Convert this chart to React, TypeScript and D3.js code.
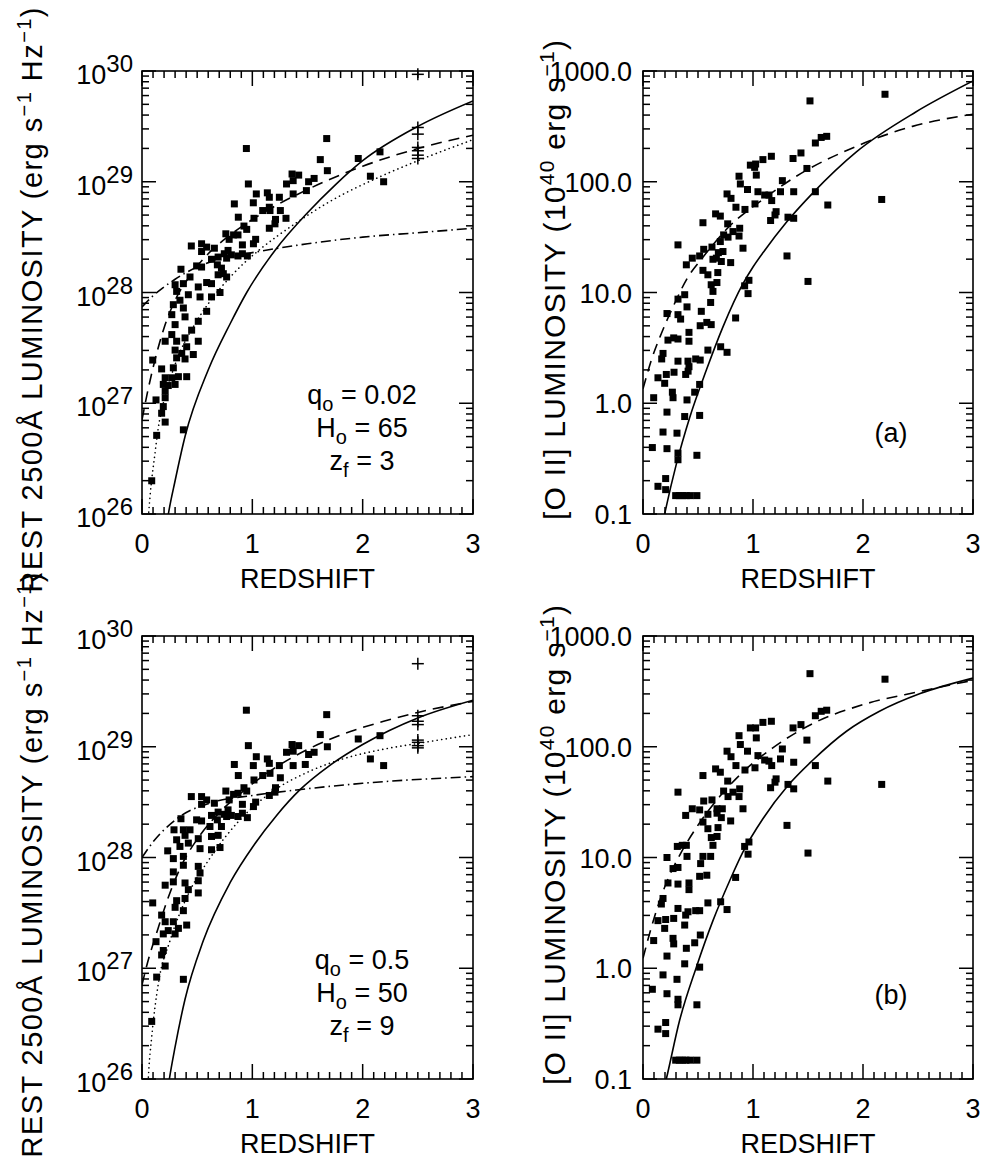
import React from 'react';
import * as d3 from 'd3';

type P = [number, number];

// ---------- tick labels ----------
const redshiftTicks = [0, 1, 2, 3];
const lumDecades = [26, 27, 28, 29, 30];
const oiiTicks = [0.1, 1, 10, 100, 1000];
const oiiTickLabels = ['0.1', '1.0', '10.0', '100.0', '1000.0'];

// ---------- top-left: [redshift, log10 L2500] ----------
const tlSquares: P[] = [
  [0.946,29.30],[1.674,29.39],[1.616,29.20],[1.68,29.10],[1.96,29.21],[2.157,29.27],[2.07,29.05],[2.19,29.0],
  [0.964,28.98],[1.36,29.07],[1.42,29.06],[1.37,29.01],[1.31,28.98],[1.56,29.03],[1.51,29.0],[1.49,28.92],
  [1.37,28.89],[1.036,28.89],[1.136,28.90],[1.154,28.86],[1.245,28.86],[0.837,28.80],[1.009,28.81],[1.154,28.77],
  [1.094,28.74],[1.16,28.74],[1.254,28.74],[0.873,28.68],[1.015,28.67],[1.21,28.66],[1.305,28.67],[1.205,28.62],
  [1.154,28.58],[0.924,28.60],[0.949,28.57],[0.76,28.53],[0.83,28.52],[0.87,28.52],[0.79,28.48],[1.03,28.48],
  [1.01,28.44],[0.91,28.43],[0.447,28.42],[0.54,28.44],[0.586,28.41],[0.656,28.40],[0.54,28.37],[0.78,28.38],
  [0.746,28.35],[0.81,28.34],[0.87,28.33],[0.91,28.35],[0.955,28.33],[0.63,28.30],[0.69,28.32],[0.767,28.31],
  [0.353,28.21],[0.495,28.24],[0.54,28.23],[0.683,28.25],[0.72,28.22],
  [0.30,28.07],[0.375,28.08],[0.435,28.14],[0.51,28.05],[0.586,28.09],[0.63,28.08],[0.69,28.16],[0.737,28.17],
  [0.767,28.14],[0.314,28.01],[0.42,27.98],[0.526,27.96],[0.63,27.96],[0.707,28.0],[0.344,27.93],[0.284,27.89],
  [0.375,27.86],[0.27,27.80],[0.39,27.78],[0.586,27.83],[0.51,27.74],[0.30,27.71],[0.45,27.66],[0.27,27.62],
  [0.39,27.59],[0.21,27.56],[0.314,27.56],[0.51,27.56],[0.405,27.51],[0.30,27.48],[0.36,27.45],[0.465,27.44],
  [0.314,27.41],[0.39,27.40],[0.097,27.39],[0.178,27.31],[0.284,27.32],[0.405,27.24],[0.21,27.23],[0.27,27.23],
  [0.33,27.24],[0.193,27.17],[0.238,27.16],[0.30,27.17],[0.21,27.11],[0.21,27.05],[0.127,27.03],[0.193,26.97],
  [0.178,26.91],[0.21,26.83],[0.133,26.71],[0.375,26.76],[0.088,26.30],
];
const tlCrosses: P[] = [[2.5,29.97],[2.5,29.49],[2.5,29.43],[2.5,29.31],[2.5,29.28],[2.5,29.24],[2.5,29.21]];
const tlSolid: P[] = [[0.22,25.88],[0.239,26.0],[0.3,26.3],[0.39,26.70],[0.6,27.30],[0.8,27.72],[0.949,28.0],[1.205,28.38],[1.5,28.72],[1.75,28.97],[2.0,29.19],[2.5,29.5],[3.0,29.73]];
const tlDashed: P[] = [[0,26.85],[0.05,27.1],[0.1,27.32],[0.2,27.68],[0.3,27.93],[0.42,28.13],[0.6,28.35],[0.8,28.52],[1.1,28.72],[1.5,28.93],[2.0,29.14],[2.5,29.30],[3.0,29.42]];
const tlDotted: P[] = [[0.05,25.85],[0.06,26.0],[0.073,26.16],[0.118,26.55],[0.148,26.78],[0.193,27.0],[0.3,27.35],[0.495,27.74],[0.616,27.92],[0.8,28.14],[0.93,28.27],[1.07,28.39],[1.4,28.63],[1.7,28.82],[2.19,29.06],[2.5,29.19],[3.0,29.38]];
const tlDashDot: P[] = [[0,27.87],[0.1,27.97],[0.2,28.05],[0.3,28.12],[0.5,28.23],[0.7,28.30],[1.0,28.36],[1.5,28.44],[2.0,28.50],[2.5,28.54],[3.0,28.58]];

// ---------- bottom-left ----------
const blSquares: P[] = [
  [0.946,29.33],[1.674,29.29],[1.616,29.11],[1.68,29.0],[1.96,29.07],[2.157,29.10],[2.07,28.89],[2.19,28.83],
  [0.964,29.01],[1.36,29.02],[1.42,29.01],[1.37,28.96],[1.31,28.95],[1.56,28.95],[1.51,28.93],[1.48,28.84],
  [1.37,28.83],[1.036,28.91],[1.136,28.89],[1.154,28.85],[1.245,28.83],[0.837,28.84],[1.009,28.83],[1.16,28.76],
  [1.094,28.74],[1.254,28.72],[0.873,28.74],[1.015,28.70],[1.21,28.63],[1.205,28.59],[1.154,28.56],[0.924,28.63],
  [0.949,28.60],[0.76,28.60],[0.83,28.57],[0.87,28.58],[0.79,28.52],[1.03,28.50],[1.01,28.46],[0.91,28.48],
  [0.447,28.55],[0.54,28.55],[0.586,28.52],[0.656,28.49],[0.54,28.48],[0.78,28.43],[0.746,28.39],[0.81,28.38],
  [0.87,28.37],[0.91,28.40],[0.955,28.36],[0.63,28.38],[0.69,28.41],[0.767,28.37],[0.353,28.35],[0.495,28.34],
  [0.54,28.33],[0.683,28.34],[0.616,28.28],[0.72,28.28],[0.29,28.25],[0.375,28.25],[0.435,28.25],[0.314,28.16],
  [0.39,28.20],[0.51,28.17],[0.63,28.19],[0.69,28.20],[0.233,28.06],[0.344,28.10],[0.42,28.13],[0.526,28.08],
  [0.63,28.07],[0.707,28.09],[0.375,28.01],[0.284,27.99],
  [0.375,27.93],[0.51,27.92],[0.284,27.87],[0.526,27.86],[0.21,27.75],[0.284,27.78],[0.39,27.77],[0.51,27.79],
  [0.42,27.71],[0.51,27.68],[0.314,27.61],[0.39,27.63],[0.097,27.59],[0.30,27.55],[0.375,27.52],[0.178,27.48],
  [0.284,27.42],[0.405,27.39],[0.21,27.42],[0.33,27.36],[0.238,27.34],[0.193,27.31],[0.30,27.31],[0.127,27.24],
  [0.193,27.16],[0.178,27.12],[0.21,27.02],[0.133,26.92],[0.375,26.90],[0.088,26.52],
];
const blCrosses: P[] = [[2.5,29.75],[2.5,29.28],[2.5,29.23],[2.5,29.20],[2.5,29.06],[2.5,29.04],[2.5,29.01],[2.5,28.99]];
const blSolid: P[] = [[0.23,25.88],[0.248,26.0],[0.30,26.29],[0.39,26.72],[0.556,27.25],[0.797,27.77],[1.02,28.12],[1.22,28.38],[1.43,28.61],[1.70,28.83],[2.0,29.02],[2.5,29.26],[3.0,29.42]];
const blDashed: P[] = [[0,26.85],[0.05,27.05],[0.133,27.32],[0.224,27.6],[0.344,27.9],[0.526,28.2],[0.677,28.38],[0.918,28.6],[1.16,28.78],[1.49,28.97],[1.76,29.09],[2.19,29.23],[2.5,29.31],[3.0,29.41]];
const blDotted: P[] = [[0.05,25.85],[0.057,26.0],[0.088,26.38],[0.148,26.86],[0.254,27.25],[0.405,27.64],[0.62,28.0],[0.888,28.34],[1.16,28.58],[1.5,28.77],[1.82,28.89],[2.2,28.98],[2.5,29.03],[3.0,29.11]];
const blDashDot: P[] = [[0,28.0],[0.1,28.14],[0.2,28.25],[0.344,28.37],[0.646,28.50],[1.0,28.56],[1.4,28.61],[2.0,28.67],[3.0,28.73]];

// ---------- top-right: [redshift, log10 L[OII] in 1e40 erg/s] ----------
const trSquares: P[] = [
  [1.518,2.73],[2.2,2.79],[1.567,2.35],[1.62,2.40],[1.67,2.41],[1.436,2.26],[1.364,2.21],[1.09,2.20],[1.167,2.23],
  [0.976,2.15],[1.024,2.16],[1.015,2.13],[1.03,2.06],[1.49,2.12],[1.267,2.01],[0.873,2.05],[0.885,1.98],[0.95,1.93],
  [1.045,1.91],[1.106,1.88],[1.145,1.88],[1.17,1.83],[1.25,1.91],[1.37,1.91],[1.567,1.91],[1.68,1.79],[2.17,1.84],
  [0.764,1.89],[0.80,1.85],[1.018,1.80],[0.927,1.75],[0.845,1.77],[1.21,1.73],[1.2,1.70],[1.16,1.65],[1.318,1.68],
  [1.37,1.67],[0.66,1.71],[0.703,1.69],[0.77,1.62],[0.545,1.63],[0.879,1.58],[0.733,1.52],[0.773,1.50],[0.818,1.55],
  [0.873,1.51],[0.703,1.46],[0.909,1.40],[0.627,1.41],[0.318,1.43],[0.552,1.39],[0.515,1.33],[0.448,1.31],[0.685,1.36],
  [0.727,1.37],[0.667,1.31],[0.712,1.28],[0.636,1.30],[0.797,1.27],[0.394,1.25],[1.309,1.33],
  [1.5,1.10],[0.545,1.20],[0.59,1.16],[0.68,1.18],[0.62,1.07],[0.672,1.09],[0.636,1.01],[0.924,1.06],[0.963,1.11],
  [0.955,0.99],[0.318,0.94],[0.379,0.98],[0.40,0.87],[0.218,0.81],[0.318,0.80],[0.342,0.76],[0.53,0.83],[0.615,0.91],
  [0.52,0.70],[0.58,0.73],[0.62,0.71],[0.842,0.77],[0.418,0.64],[0.418,0.56],[0.279,0.59],[0.227,0.57],[0.318,0.58],
  [0.59,0.48],[0.706,0.51],[0.764,0.46],[0.182,0.45],[0.17,0.40],[0.318,0.38],[0.409,0.38],[0.418,0.33],[0.479,0.40],
  [0.52,0.39],[0.388,0.26],[0.41,0.29],[0.282,0.28],[0.136,0.23],[0.212,0.26],[0.197,0.18],[0.515,0.17],[0.267,0.10],
  [0.273,0.05],[0.47,0.10],[0.097,0.05],[0.40,0.03],[0.218,-0.08],[0.379,-0.12],[0.515,-0.11],[0.182,-0.26],[0.309,-0.27],
  [0.085,-0.40],[0.218,-0.41],[0.318,-0.45],[0.318,-0.51],[0.49,-0.47],[0.206,-0.68],[0.136,-0.75],[0.206,-0.78],
  [0.297,-0.834],[0.33,-0.834],[0.36,-0.834],[0.394,-0.834],[0.43,-0.834],[0.49,-0.834],
];
const trSolid: P[] = [[0.18,-1.08],[0.197,-1.0],[0.303,-0.55],[0.424,-0.13],[0.576,0.30],[0.727,0.69],[0.909,1.08],[1.0,1.23],[1.106,1.38],[1.30,1.63],[1.545,1.90],[1.94,2.27],[2.48,2.63],[3.0,2.91]];
const trDashed: P[] = [[0,0.13],[0.076,0.39],[0.167,0.63],[0.273,0.87],[0.409,1.14],[0.53,1.30],[0.788,1.60],[1.09,1.84],[1.394,2.05],[1.94,2.32],[2.45,2.50],[3.0,2.61]];

// ---------- bottom-right ----------
const brSquares: P[] = [
  [1.518,2.66],[2.2,2.61],[1.567,2.28],[1.62,2.32],[1.67,2.33],[1.436,2.20],[1.364,2.17],[1.09,2.22],[1.167,2.23],
  [0.976,2.17],[1.024,2.17],[1.03,2.08],[1.49,2.06],[1.267,1.98],[0.873,2.10],[0.885,2.02],[0.95,1.96],[1.045,1.92],
  [1.106,1.88],[1.145,1.87],[1.17,1.83],[1.25,1.89],[1.37,1.86],[1.567,1.83],[1.68,1.69],[2.17,1.66],[0.764,1.96],
  [0.80,1.91],[1.018,1.81],[0.927,1.79],[0.845,1.83],[1.21,1.71],[1.2,1.68],[1.16,1.63],[1.318,1.66],[1.37,1.62],
  [0.66,1.80],[0.703,1.77],[0.77,1.69],[0.545,1.74],[0.879,1.62],[0.733,1.60],[0.773,1.55],[0.818,1.59],[0.873,1.55],
  [0.909,1.44],[0.627,1.52],[0.318,1.59],[0.552,1.51],[0.448,1.44],[0.388,1.38],[0.515,1.43],[0.673,1.44],[0.721,1.44],
  [0.673,1.40],[0.712,1.36],[0.59,1.39],[0.545,1.32],[0.59,1.26],[0.682,1.27],[0.797,1.33],[1.309,1.29],[0.621,1.18],
  [0.673,1.19],[0.636,1.11],[0.312,1.10],[0.357,1.11],[0.394,1.11],[0.924,1.10],[0.963,1.14],[0.955,1.03],[1.5,1.04],
  [0.218,1.00],[0.40,1.01],[0.545,1.01],[0.615,1.01],
  [0.273,0.90],[0.318,0.91],[0.524,0.945],[0.515,0.83],[0.58,0.84],[0.842,0.82],[0.227,0.77],[0.318,0.76],[0.418,0.77],
  [0.418,0.71],[0.182,0.63],[0.167,0.58],[0.59,0.59],[0.706,0.60],[0.764,0.53],[0.318,0.54],[0.388,0.48],[0.409,0.51],
  [0.479,0.52],[0.515,0.52],[0.379,0.39],[0.136,0.43],[0.206,0.44],[0.279,0.45],[0.197,0.36],[0.097,0.25],[0.273,0.27],
  [0.279,0.22],[0.521,0.30],[0.47,0.23],[0.394,0.18],[0.218,0.11],[0.379,0.04],[0.515,0.01],[0.182,-0.06],[0.309,-0.10],
  [0.085,-0.19],[0.218,-0.23],[0.318,-0.28],[0.318,-0.33],[0.49,-0.33],[0.206,-0.49],[0.136,-0.55],[0.206,-0.59],
  [0.297,-0.83],[0.33,-0.83],[0.36,-0.83],[0.39,-0.83],[0.43,-0.83],[0.49,-0.83],
];
const brSolid: P[] = [[0.19,-1.09],[0.212,-1.0],[0.333,-0.47],[0.485,0.01],[0.636,0.43],[0.788,0.79],[0.909,1.05],[1.09,1.35],[1.318,1.65],[1.545,1.88],[1.85,2.14],[2.15,2.32],[2.52,2.48],[3.0,2.62]];
const brDashed: P[] = [[0,0.09],[0.076,0.37],[0.152,0.61],[0.242,0.84],[0.333,1.02],[0.485,1.27],[0.697,1.55],[0.939,1.80],[1.18,1.99],[1.545,2.21],[2.0,2.38],[2.52,2.50],[3.0,2.60]];

// ---------- annotation ----------
const topParams = [['q', 'o', ' = 0.02'], ['H', 'o', ' = 65'], ['z', 'f', ' = 3']];
const botParams = [['q', 'o', ' = 0.5'], ['H', 'o', ' = 50'], ['z', 'f', ' = 9']];

const FONT = "'Liberation Sans', Arial, Helvetica, sans-serif";

type Curve = { pts: P[]; dash?: string; cap?: string };

function Panel(props: {
  id: string; x0: number; x1: number; y0: number; y1: number;
  kind: 'lum' | 'oii';
  squares: P[]; crosses?: P[]; curves: Curve[];
}) {
  const { id, x0, x1, y0, y1, kind, squares, crosses, curves } = props;
  const xS = d3.scaleLinear().domain([0, 3]).range([x0, x1]);
  const yS = kind === 'lum'
    ? d3.scaleLog().domain([1e26, 1e30]).range([y1, y0])
    : d3.scaleLog().domain([0.1, 1000]).range([y1, y0]);
  const lo = kind === 'lum' ? 26 : -1;
  const line = d3.line<P>().x(d => xS(d[0])).y(d => yS(Math.pow(10, d[1]))).curve(d3.curveMonotoneX);

  const xMinor = d3.range(0, 30.5, 1).map(i => i / 10).filter(v => Math.abs(v - Math.round(v)) > 1e-6);
  const yMinor: number[] = [];
  for (let d = lo; d < lo + 4; d++) for (let m = 2; m <= 9; m++) yMinor.push(m * Math.pow(10, d));
  const yMajor = d3.range(lo, lo + 5).map(d => Math.pow(10, d));

  const ticks: JSX.Element[] = [];
  xMinor.forEach((v, i) => {
    const x = xS(v);
    ticks.push(<line key={'xb' + i} x1={x} x2={x} y1={y1} y2={y1 - 7} />);
    ticks.push(<line key={'xt' + i} x1={x} x2={x} y1={y0} y2={y0 + 7} />);
  });
  redshiftTicks.forEach((v, i) => {
    const x = xS(v);
    ticks.push(<line key={'Xb' + i} x1={x} x2={x} y1={y1} y2={y1 - 15} />);
    ticks.push(<line key={'Xt' + i} x1={x} x2={x} y1={y0} y2={y0 + 15} />);
  });
  yMinor.forEach((v, i) => {
    const y = yS(v);
    ticks.push(<line key={'yl' + i} x1={x0} x2={x0 + 7} y1={y} y2={y} />);
    ticks.push(<line key={'yr' + i} x1={x1} x2={x1 - 7} y1={y} y2={y} />);
  });
  yMajor.forEach((v, i) => {
    const y = yS(v);
    ticks.push(<line key={'Yl' + i} x1={x0} x2={x0 + 14} y1={y} y2={y} />);
    ticks.push(<line key={'Yr' + i} x1={x1} x2={x1 - 14} y1={y} y2={y} />);
  });

  return (
    <g>
      <defs>
        <clipPath id={'clip' + id}>
          <rect x={x0} y={y0} width={x1 - x0} height={y1 - y0} />
        </clipPath>
      </defs>
      <g clipPath={`url(#clip${id})`}>
        {curves.map((c, i) => (
          <path key={i} d={line(c.pts) || ''} fill="none" stroke="#000" strokeWidth={1.6}
            strokeDasharray={c.dash} strokeLinecap={(c.cap as any) || 'butt'} />
        ))}
        {squares.map((d, i) => (
          <rect key={i} x={xS(d[0]) - 3.5} y={yS(Math.pow(10, d[1])) - 3.5} width={7} height={7} fill="#000" />
        ))}
      </g>
      {(crosses || []).map((d, i) => {
        const cx = xS(d[0]); const cy = yS(Math.pow(10, d[1]));
        return (
          <g key={'c' + i} stroke="#000" strokeWidth={1.5}>
            <line x1={cx - 6} x2={cx + 6} y1={cy} y2={cy} />
            <line x1={cx} x2={cx} y1={cy - 6} y2={cy + 6} />
          </g>
        );
      })}
      <g stroke="#000" strokeWidth={1.5}>{ticks}</g>
      <rect x={x0} y={y0} width={x1 - x0} height={y1 - y0} fill="none" stroke="#000" strokeWidth={1.6} />
      {redshiftTicks.map(v => (
        <text key={'xl' + v} x={xS(v)} y={y1 + 39} textAnchor="middle" fontSize={27} fontFamily={FONT}>{v}</text>
      ))}
      <text x={(x0 + x1) / 2} y={y1 + 74} textAnchor="middle" fontSize={27} fontFamily={FONT}>REDSHIFT</text>
      {kind === 'lum'
        ? lumDecades.map(d => (
          <text key={'yl' + d} x={x0 - 9} y={yS(Math.pow(10, d)) + 13} textAnchor="end" fontSize={27} fontFamily={FONT}>
            10<tspan dy={-12} fontSize={24}>{d}</tspan>
          </text>
        ))
        : oiiTicks.map((v, i) => (
          <text key={'yl' + i} x={x0 - 11} y={yS(v) + 10} textAnchor="end" fontSize={27} fontFamily={FONT}>{oiiTickLabels[i]}</text>
        ))}
    </g>
  );
}

function LumTitle({ cy }: { cy: number }) {
  return (
    <text transform={`translate(42, ${cy}) rotate(-90)`} textAnchor="middle" fontSize={29} fontFamily={FONT}
      textLength={585} lengthAdjust="spacing">
      REST 2500Å LUMINOSITY (erg s<tspan dy={-11} fontSize={20}>−1</tspan>
      <tspan dy={11}> Hz</tspan><tspan dy={-11} fontSize={20}>−1</tspan><tspan dy={11}>)</tspan>
    </text>
  );
}

function OiiTitle({ cy }: { cy: number }) {
  return (
    <text transform={`translate(565, ${cy}) rotate(-90)`} textAnchor="middle" fontSize={30} fontFamily={FONT}
      textLength={480} lengthAdjust="spacing">
      [O II] LUMINOSITY (10<tspan dy={-11} fontSize={21}>40</tspan>
      <tspan dy={11}> erg s</tspan><tspan dy={-11} fontSize={21}>−1</tspan><tspan dy={11}>)</tspan>
    </text>
  );
}

function Params({ rows, y }: { rows: string[][]; y: number }) {
  return (
    <g fontFamily={FONT} fontSize={27}>
      {rows.map((r, i) => (
        <text key={i} x={362} y={y + i * 33} textAnchor="middle">
          {r[0]}<tspan dy={7} fontSize={20}>{r[1]}</tspan><tspan dy={-7}>{r[2]}</tspan>
        </text>
      ))}
    </g>
  );
}

export default function App() {
  const LX0 = 142, LX1 = 473, RX0 = 643, RX1 = 973;
  const TY0 = 71, TY1 = 514, BY0 = 636, BY1 = 1079;
  const lumCurves = (s: P[], da: P[], dt: P[], dd: P[]): Curve[] => [
    { pts: s },
    { pts: da, dash: '11,7' },
    { pts: dt, dash: '0.1,4.5', cap: 'round' },
    { pts: dd, dash: '10,4,1.5,4' },
  ];
  return (
    <svg width={987} height={1159} style={{ display: 'block', position: 'absolute', left: 0, top: 0 }}>
      <rect x={0} y={0} width={987} height={1159} fill="#fff" />
      <Panel id="tl" x0={LX0} x1={LX1} y0={TY0} y1={TY1} kind="lum" squares={tlSquares} crosses={tlCrosses}
        curves={lumCurves(tlSolid, tlDashed, tlDotted, tlDashDot)} />
      <Panel id="bl" x0={LX0} x1={LX1} y0={BY0} y1={BY1} kind="lum" squares={blSquares} crosses={blCrosses}
        curves={lumCurves(blSolid, blDashed, blDotted, blDashDot)} />
      <Panel id="tr" x0={RX0} x1={RX1} y0={TY0} y1={TY1} kind="oii" squares={trSquares}
        curves={[{ pts: trSolid }, { pts: trDashed, dash: '11,7' }]} />
      <Panel id="br" x0={RX0} x1={RX1} y0={BY0} y1={BY1} kind="oii" squares={brSquares}
        curves={[{ pts: brSolid }, { pts: brDashed, dash: '11,7' }]} />
      <LumTitle cy={300} />
      <LumTitle cy={865} />
      <OiiTitle cy={280} />
      <OiiTitle cy={845} />
      <Params rows={topParams} y={404} />
      <Params rows={botParams} y={969} />
      <text x={891} y={442} textAnchor="middle" fontSize={27} fontFamily={FONT}>(a)</text>
      <text x={891} y={1004} textAnchor="middle" fontSize={27} fontFamily={FONT}>(b)</text>
    </svg>
  );
}
